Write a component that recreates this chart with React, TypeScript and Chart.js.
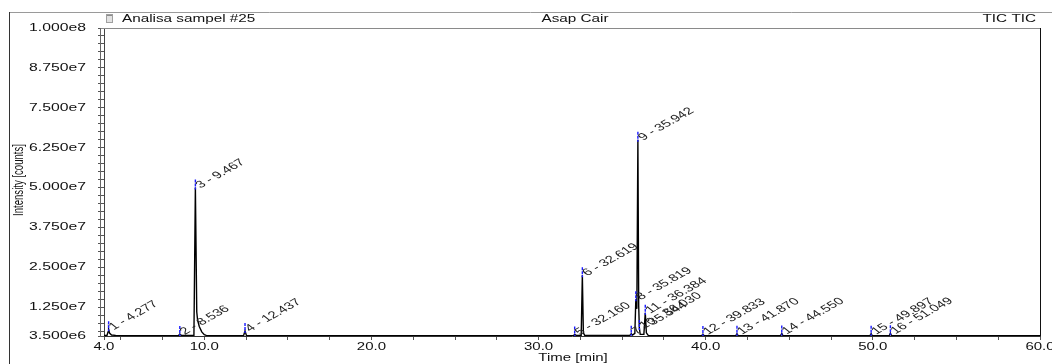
import React, { useEffect, useRef } from 'react';
import { Chart, registerables } from 'chart.js';

Chart.register(...registerables);

// ---- data ----
const traceTime = [
  4.0, 4.18, 4.24, 4.277, 4.33, 4.45, 4.7,
  8.45, 8.536, 8.62,
  9.38, 9.467, 9.55, 9.6, 9.7, 9.85, 10.0, 10.12,
  12.35, 12.437, 12.52,
  32.08, 32.16, 32.25, 32.55, 32.619, 32.68, 32.76,
  35.46, 35.544, 35.62, 35.76, 35.819, 35.88, 35.942, 35.99, 36.03, 36.08, 36.3, 36.384, 36.45, 36.56,
  39.76, 39.833, 39.9,
  41.8, 41.87, 41.94,
  44.48, 44.55, 44.62,
  49.83, 49.897, 49.96,
  50.98, 51.049, 51.12,
  60.0,
];
const traceIntensity = [
  3.7e6, 3.7e6, 4.8e6, 5.6e6, 4.4e6, 3.8e6, 3.7e6,
  3.6e6, 4.1e6, 3.7e6,
  3.7e6, 5.0e7, 1.1e7, 8.5e6, 6.5e6, 4.8e6, 3.9e6, 3.7e6,
  3.6e6, 5.1e6, 3.7e6,
  3.6e6, 4.0e6, 3.7e6, 3.7e6, 2.25e7, 4.5e6, 3.7e6,
  3.7e6, 4.2e6, 3.8e6, 4.3e6, 1.5e7, 1.2e7, 6.5e7, 1.3e7, 6.0e6, 4.0e6, 4.0e6, 1.08e7, 4.5e6, 3.7e6,
  3.6e6, 4.1e6, 3.6e6,
  3.6e6, 4.2e6, 3.6e6,
  3.6e6, 4.3e6, 3.6e6,
  3.6e6, 4.2e6, 3.6e6,
  3.6e6, 4.4e6, 3.6e6,
  3.6e6,
];

const peakNumbers = [1, 2, 3, 4, 5, 6, 7, 8, 9, 10, 11, 12, 13, 14, 15, 16];
const peakTimes = [4.277, 8.536, 9.467, 12.437, 32.16, 32.619, 35.544, 35.819, 35.942, 36.03, 36.384, 39.833, 41.87, 44.55, 49.897, 51.049];
const peakHeights = [5.6e6, 4.1e6, 5.0e7, 5.1e6, 4.0e6, 2.25e7, 4.2e6, 1.5e7, 6.5e7, 6.0e6, 1.08e7, 4.1e6, 4.2e6, 4.3e6, 4.2e6, 4.4e6];

const yMajorTicks = [3.5e6, 1.25e7, 2.5e7, 3.75e7, 5.0e7, 6.25e7, 7.5e7, 8.75e7, 1.0e8];
const yMajorLabels = ['3.500e6', '1.250e7', '2.500e7', '3.750e7', '5.000e7', '6.250e7', '7.500e7', '8.750e7', '1.000e8'];
const yMinorStep = 2.5e6;

const xMajorTicks = [4, 10, 20, 30, 40, 50, 60];
const xMajorLabels = ['4.0', '10.0', '20.0', '30.0', '40.0', '50.0', '60.0'];
const xMinorTicks = [5, 7.5, 12.5, 15, 17.5, 22.5, 25, 27.5, 32.5, 35, 37.5, 42.5, 45, 47.5, 52.5, 55, 57.5];

const headerLeft = 'Analisa sampel #25';
const headerCenter = 'Asap Cair';
const headerRight = 'TIC TIC';
const xTitle = 'Time [min]';
const yTitle = 'Intensity [counts]';

const FONT = '"Liberation Sans", Arial, Helvetica, sans-serif';
const STRETCH = 1.5; // the reference's text is drawn horizontally widened

function buildYTicks() {
  const vals: number[] = [...yMajorTicks];
  for (let v = 5e6; v < 1e8; v += yMinorStep) {
    if (!yMajorTicks.some((m) => Math.abs(m - v) < 1)) vals.push(v);
  }
  return vals.sort((a, b) => a - b).map((value) => ({ value }));
}

function buildXTicks() {
  return [...xMajorTicks, ...xMinorTicks].sort((a, b) => a - b).map((value) => ({ value }));
}

function wideText(ctx: CanvasRenderingContext2D, text: string, x: number, y: number, align: CanvasTextAlign) {
  ctx.save();
  ctx.translate(x, y);
  ctx.scale(STRETCH, 1);
  ctx.textAlign = align;
  ctx.fillText(text, 0, 0);
  ctx.restore();
}

const decorPlugin = {
  id: 'decor',
  beforeDraw(chart: any) {
    const { ctx, width, height } = chart;
    ctx.save();
    ctx.fillStyle = '#ffffff';
    ctx.fillRect(0, 0, width, height);
    ctx.restore();
    (['x', 'y'] as const).forEach((id) => {
      const s: any = chart.scales[id];
      if (s && !s.__wrapped) {
        const orig = s.drawLabels.bind(s);
        s.drawLabels = (ca: any) => {
          const c: any = chart.ctx;
          const protoRotate = c.rotate;
          c.rotate = function (a: number) {
            protoRotate.call(this, a);
            this.scale(STRETCH, 1);
          };
          try {
            orig(ca);
          } finally {
            delete c.rotate;
          }
        };
        s.__wrapped = true;
      }
    });
  },
  afterDatasetsDraw(chart: any) {
    const { ctx, scales } = chart;
    const xs = scales.x;
    const ys = scales.y;
    const bottom = chart.chartArea.bottom;
    ctx.save();
    // peak markers
    ctx.strokeStyle = '#1a1aff';
    ctx.lineWidth = 1.4;
    ctx.setLineDash([3, 1]);
    peakTimes.forEach((t, i) => {
      const px = xs.getPixelForValue(t);
      const py = ys.getPixelForValue(peakHeights[i]);
      ctx.beginPath();
      ctx.moveTo(px, py - 8);
      ctx.lineTo(px, Math.min(py + 2, bottom));
      ctx.stroke();
    });
    ctx.setLineDash([]);
    // peak labels
    ctx.fillStyle = '#222222';
    ctx.font = `10px ${FONT}`;
    ctx.textBaseline = 'alphabetic';
    peakTimes.forEach((t, i) => {
      const px = xs.getPixelForValue(t);
      const py = ys.getPixelForValue(peakHeights[i]);
      ctx.save();
      ctx.translate(px + 5, py + 1);
      ctx.scale(STRETCH, 1);
      ctx.rotate((-40 * Math.PI) / 180);
      ctx.textAlign = 'left';
      ctx.fillText(`${peakNumbers[i]} - ${t.toFixed(3)}`, 0, 0);
      ctx.restore();
    });
    ctx.restore();
  },
  afterDraw(chart: any) {
    const { ctx, chartArea } = chart;
    const { left, right, top, bottom } = chartArea;
    ctx.save();
    ctx.lineWidth = 1;
    // outer frame
    ctx.strokeStyle = '#9a9a9a';
    ctx.beginPath();
    ctx.moveTo(9, 12.5);
    ctx.lineTo(1052, 12.5);
    ctx.stroke();
    ctx.strokeStyle = '#333333';
    ctx.beginPath();
    ctx.moveTo(9.5, 12);
    ctx.lineTo(9.5, 364);
    ctx.stroke();
    // plot frame
    ctx.strokeStyle = '#8a8a8a';
    ctx.beginPath();
    ctx.moveTo(left - 4, top + 0.5);
    ctx.lineTo(right, top + 0.5);
    ctx.stroke();
    ctx.strokeStyle = '#111111';
    ctx.beginPath();
    ctx.moveTo(right + 0.5, top);
    ctx.lineTo(right + 0.5, bottom);
    ctx.stroke();
    ctx.strokeStyle = '#666666';
    ctx.beginPath();
    ctx.moveTo(left - 3.5, top);
    ctx.lineTo(left - 3.5, bottom + 1);
    ctx.stroke();
    // header icon
    ctx.fillStyle = '#e2e2e2';
    ctx.fillRect(106, 14, 7, 9);
    ctx.fillStyle = '#8c8c8c';
    ctx.fillRect(106, 14, 7, 2);
    ctx.strokeStyle = '#a0a0a0';
    ctx.strokeRect(106.5, 14.5, 6, 8);
    // header texts
    ctx.fillStyle = '#111111';
    ctx.font = `10.2px ${FONT}`;
    ctx.textBaseline = 'alphabetic';
    wideText(ctx, headerLeft, 122, 22, 'left');
    wideText(ctx, headerCenter, 575, 22, 'center');
    wideText(ctx, headerRight, 1036, 22, 'right');
    // axis titles
    ctx.font = `10px ${FONT}`;
    ctx.textBaseline = 'middle';
    wideText(ctx, xTitle, 573, 358, 'center');
    ctx.save();
    ctx.translate(19, 180);
    ctx.scale(STRETCH, 1);
    ctx.rotate(-Math.PI / 2);
    ctx.font = `9.6px ${FONT}`;
    ctx.textAlign = 'center';
    ctx.fillText(yTitle, 0, 0);
    ctx.restore();
    ctx.restore();
  },
};

export default function App() {
  const ref = useRef<HTMLCanvasElement>(null);
  useEffect(() => {
    document.body.style.margin = '0';
    const points = traceTime.map((t, i) => ({ x: t, y: traceIntensity[i] }));
    const chart = new Chart(ref.current as HTMLCanvasElement, {
      type: 'line',
      data: {
        datasets: [
          {
            label: 'TIC',
            data: points,
            borderColor: '#000000',
            borderWidth: 1.4,
            pointRadius: 0,
            tension: 0,
            fill: false,
          },
        ],
      },
      options: {
        responsive: false,
        animation: false,
        events: [],
        layout: { padding: { top: 28, right: 12, left: 0, bottom: 0 } },
        plugins: {
          legend: { display: false },
          tooltip: { enabled: false },
          title: { display: false },
        },
        scales: {
          x: {
            type: 'linear',
            min: 4,
            max: 60,
            afterBuildTicks: (scale: any) => {
              scale.ticks = buildXTicks();
            },
            afterFit: (scale: any) => {
              scale.height = 28;
            },
            ticks: {
              autoSkip: false,
              maxRotation: 0,
              minRotation: 0,
              padding: 1,
              color: '#111111',
              font: { family: FONT, size: 10 },
              callback: (value: any) => {
                const i = xMajorTicks.findIndex((v) => Math.abs(v - value) < 1e-6);
                return i >= 0 ? xMajorLabels[i] : '';
              },
            },
            grid: { drawOnChartArea: false, drawTicks: true, tickLength: 4, color: '#555555' },
            border: { display: true, color: '#333333' },
          },
          y: {
            type: 'linear',
            min: 3.5e6,
            max: 1.0e8,
            afterBuildTicks: (scale: any) => {
              scale.ticks = buildYTicks();
            },
            afterFit: (scale: any) => {
              scale.width = 104;
            },
            ticks: {
              autoSkip: false,
              padding: 12,
              color: '#111111',
              font: { family: FONT, size: 10.5 },
              callback: (value: any) => {
                const i = yMajorTicks.findIndex((v) => Math.abs(v - value) < 1);
                return i >= 0 ? yMajorLabels[i] : '';
              },
            },
            grid: { drawOnChartArea: false, drawTicks: true, tickLength: 6, color: '#555555' },
            border: { display: true, color: '#444444' },
          },
        },
      },
      plugins: [decorPlugin],
    } as any);
    return () => chart.destroy();
  }, []);
  return (
    <canvas
      ref={ref}
      width={1052}
      height={364}
      style={{ display: 'block', width: '1052px', height: '364px' }}
    />
  );
}
